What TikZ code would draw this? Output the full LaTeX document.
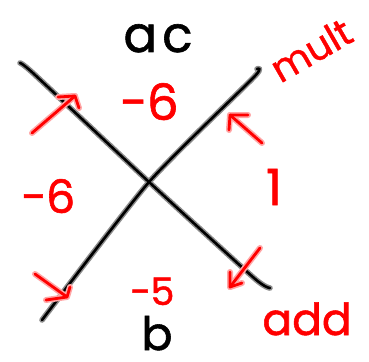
\documentclass[tikz,border=0pt]{standalone}
\usepackage{fontspec}
\setmainfont{Poppins}
\newfontfamily\handfont[FakeBold=1.2]{Poppins}
\begin{document}
\begin{tikzpicture}[x=1pt,y=-1pt,
  blk/.style={line width=2.6pt,black,line cap=round,line join=round},
  blkhalo/.style={line width=5.6pt,black!45,line cap=round,line join=round},
  rd/.style={line width=2.8pt,red,line cap=round,line join=round},
  rdhalo/.style={line width=6pt,red!35,line cap=round,line join=round},
  blabel/.style={text=black,inner sep=0pt,anchor=base},
  rlabel/.style={text=red,inner sep=0pt,anchor=base}]
\useasboundingbox (0,0) rectangle (369,361);
% crossing lines
\coordinate (l1a) at (20,63);
\coordinate (l1b) at (270,288);
\coordinate (l2a) at (257,69);
\coordinate (l2b) at (42,320);
\coordinate (x) at (149,182);
\foreach \s in {blkhalo,blk}{
  \draw[\s] plot[smooth,tension=0.35] coordinates {(l1a) (34,74) (x) (254,278) (l1b)};
  \draw[\s] plot[smooth,tension=0.35] coordinates {(l2a) (254,77) (x) (l2b)};
}
% labels
\node[blabel,font=\handfont\fontsize{50}{50}\selectfont] (ac) at (158,52) {a\hspace{5pt}c};
\node[blabel,font=\handfont\fontsize{46}{46}\selectfont] (b) at (157,350) {b};
\node[rlabel,font=\handfont\fontsize{50}{50}\selectfont] (m6top) at (149,120) {−6};
\node[rlabel,font=\handfont\fontsize{46}{46}\selectfont] (m6left) at (48,213) {−6};
\node[rlabel,font=\handfont\fontsize{50}{50}\selectfont] (one) at (274,205) {1};
\node[rlabel,font=\handfont\fontsize{38}{38}\selectfont] (m5) at (152,305) {−5};
\node[rlabel,font=\handfont\fontsize{44}{44}\selectfont] (add) at (307,335) {add};
\node[rlabel,font=\handfont\fontsize{38}{38}\selectfont,rotate=30] (mult) at (318,62) {mult};
% red arrows
\coordinate (t1) at (75,96);
\coordinate (t2) at (230,115);
\coordinate (t3) at (230,287);
\coordinate (t4) at (67,297);
\foreach \s in {rdhalo,rd}{
  \draw[\s] (32,133) -- (t1);
  \draw[\s] (58,97) -- (t1) -- (79,108);
  \draw[\s] (262,143) -- (t2);
  \draw[\s] (248,115) -- (t2) -- (229,130);
  \draw[\s] (260,248) -- (t3);
  \draw[\s] (230,272) -- (t3) -- (242,283);
  \draw[\s] (35,274) -- (t4);
  \draw[\s] (70,287) -- (t4) -- (46,300);
}
\end{tikzpicture}
\end{document}
